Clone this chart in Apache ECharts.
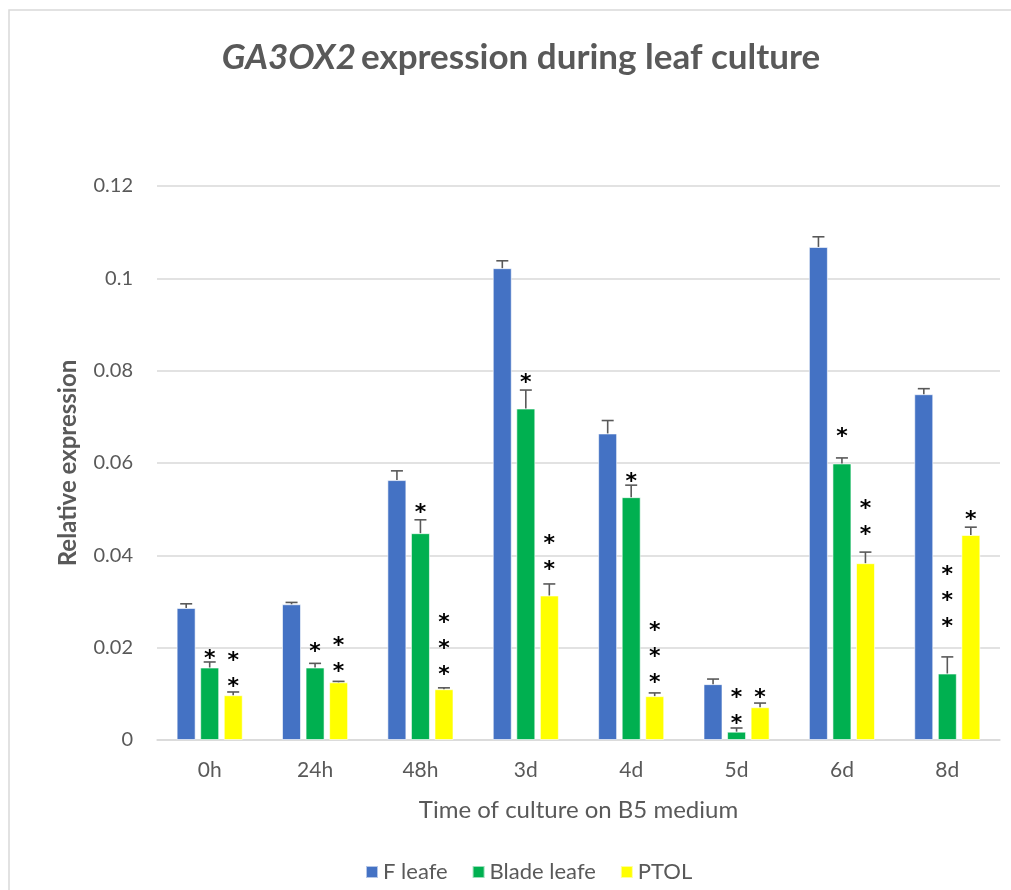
<!DOCTYPE html>
<html>
<head>
<meta charset="utf-8">
<script src="https://cdn.jsdelivr.net/npm/echarts@6/dist/echarts.min.js"></script>
<style>html,body{margin:0;padding:0;background:#fff}#c{width:1011px;height:890px}</style>
</head>
<body>
<div id="c"></div>
<script>
// ---- data ----
const categories = ['0h', '24h', '48h', '3d', '4d', '5d', '6d', '8d'];
const seriesNames = ['F leafe', 'Blade leafe', 'PTOL'];
const fLeafe = [0.0286, 0.0294, 0.0563, 0.1022, 0.0664, 0.0121, 0.1068, 0.0749];
const bladeLeafe = [0.0157, 0.0157, 0.0448, 0.0718, 0.0526, 0.0018, 0.0599, 0.0144];
const ptol = [0.0097, 0.0125, 0.0110, 0.0313, 0.0095, 0.0071, 0.0383, 0.0444];
const fLeafeErr = [0.0009, 0.0004, 0.0020, 0.0016, 0.0028, 0.0011, 0.0022, 0.0012];
const bladeLeafeErr = [0.0012, 0.0009, 0.0029, 0.0040, 0.0026, 0.0008, 0.0012, 0.0036];
const ptolErr = [0.0007, 0.0002, 0.0003, 0.0025, 0.0007, 0.0009, 0.0024, 0.0017];
// significance: number of asterisks and value at which the lowest asterisk sits
const bladeStars = [1, 1, 1, 1, 1, 2, 1, 3];
const bladeStarAt = [0.0186, 0.0201, 0.0502, 0.0784, 0.0570, 0.0045, 0.0666, 0.0254];
const ptolStars = [2, 2, 3, 2, 3, 1, 2, 1];
const ptolStarAt = [0.0126, 0.0158, 0.0150, 0.0378, 0.0133, 0.0102, 0.0455, 0.0487];
const yTicks = { min: 0, max: 0.12, interval: 0.02 };

const colors = ['#4472C4', '#00B050', '#FFFF00'];
const values = [fLeafe, bladeLeafe, ptol];
const errs = [fLeafeErr, bladeLeafeErr, ptolErr];

const FONT = 'Lato';
const BAR_W = 19, GAP = 4.5;

function offsetFor(s) { return (s - 1) * (BAR_W + GAP); }

const errData = [];
for (let s = 0; s < 3; s++) {
  for (let i = 0; i < categories.length; i++) {
    errData.push([i, values[s][i], values[s][i] + errs[s][i], s]);
  }
}
const starData = [];
[[bladeStars, bladeStarAt, 1], [ptolStars, ptolStarAt, 2]].forEach(([cnt, at, s]) => {
  for (let i = 0; i < categories.length; i++) starData.push([i, at[i], cnt[i], s]);
});

const series = seriesNames.map((n, s) => ({
  name: n, type: 'bar', data: values[s], barWidth: BAR_W, barGap: '24%',
  itemStyle: { color: colors[s], borderColor: 'rgba(255,255,255,0.6)', borderWidth: 1 },
  emphasis: { disabled: true }
}));

series.push({
  type: 'custom', name: 'err', silent: true, z: 5,
  data: errData,
  encode: { x: 0, y: [1, 2] },
  renderItem: function (params, api) {
    const c = api.value(0), s = api.value(3);
    const p0 = api.coord([c, api.value(1)]);
    const p1 = api.coord([c, api.value(2)]);
    const x = p0[0] + offsetFor(s);
    const half = 6;
    const st = { stroke: '#595959', lineWidth: 1.6 };
    return { type: 'group', children: [
      { type: 'line', shape: { x1: x, y1: p0[1], x2: x, y2: p1[1] }, style: st },
      { type: 'line', shape: { x1: x - half, y1: p1[1], x2: x + half, y2: p1[1] }, style: st }
    ]};
  }
});

series.push({
  type: 'custom', name: 'stars', silent: true, z: 6,
  data: starData,
  encode: { x: 0, y: 1 },
  renderItem: function (params, api) {
    const c = api.value(0), n = api.value(2), s = api.value(3);
    const p = api.coord([c, api.value(1)]);
    const x = p[0] + offsetFor(s);
    const children = [];
    for (let k = 0; k < n; k++) {
      children.push({ type: 'text', style: {
        text: '*', x: x, y: p[1] - k * 26 + 5, align: 'center', verticalAlign: 'middle',
        fontSize: 22, fontWeight: 'bold', fontFamily: 'DejaVu Sans', fill: '#000' } });
    }
    return { type: 'group', children: children };
  }
});

const chart = echarts.init(document.getElementById('c'));
chart.setOption({
  animation: false,
  backgroundColor: '#fff',
  graphic: [{ type: 'rect', shape: { x: 9, y: 10, width: 1100, height: 1000 },
    style: { fill: 'none', stroke: '#d9d9d9', lineWidth: 1.5 }, silent: true, z: -10 }],
  title: {
    text: '{i|GA3OX2} {b|expression during leaf culture}',
    left: 516, top: 35, textAlign: 'center',
    textStyle: { rich: {
      i: { fontFamily: FONT, fontSize: 35, fontStyle: 'italic', fontWeight: 'bold', color: '#595959' },
      b: { fontFamily: FONT, fontSize: 35, fontWeight: 'bold', color: '#595959' }
    } }
  },
  legend: {
    data: seriesNames, bottom: 2, left: 360, itemWidth: 12, itemHeight: 12, itemGap: 24,
    icon: 'rect', textStyle: { fontFamily: FONT, fontSize: 22, color: '#595959' }
  },
  grid: { left: 157, right: 11, top: 186, bottom: 150 },
  xAxis: {
    type: 'category', data: categories,
    axisLine: { lineStyle: { color: '#d9d9d9', width: 1.5 } },
    axisTick: { show: false },
    axisLabel: { fontFamily: FONT, fontSize: 21, color: '#595959', margin: 20 },
    name: 'Time of culture on B5 medium', nameLocation: 'middle', nameGap: 58,
    nameTextStyle: { fontFamily: FONT, fontSize: 24, color: '#595959' }
  },
  yAxis: {
    type: 'value', min: yTicks.min, max: yTicks.max, interval: yTicks.interval,
    axisLine: { show: false }, axisTick: { show: false },
    splitLine: { lineStyle: { color: '#d9d9d9', width: 1.5 } },
    axisLabel: { fontFamily: FONT, fontSize: 20, color: '#595959', margin: 24,
      formatter: v => v === 0 ? '0' : String(+v.toFixed(2)) },
    name: 'Relative expression', nameLocation: 'middle', nameGap: 77,
    nameTextStyle: { fontFamily: FONT, fontSize: 24, fontWeight: 'bold', color: '#595959' }
  },
  series: series
});
</script>
</body>
</html>
